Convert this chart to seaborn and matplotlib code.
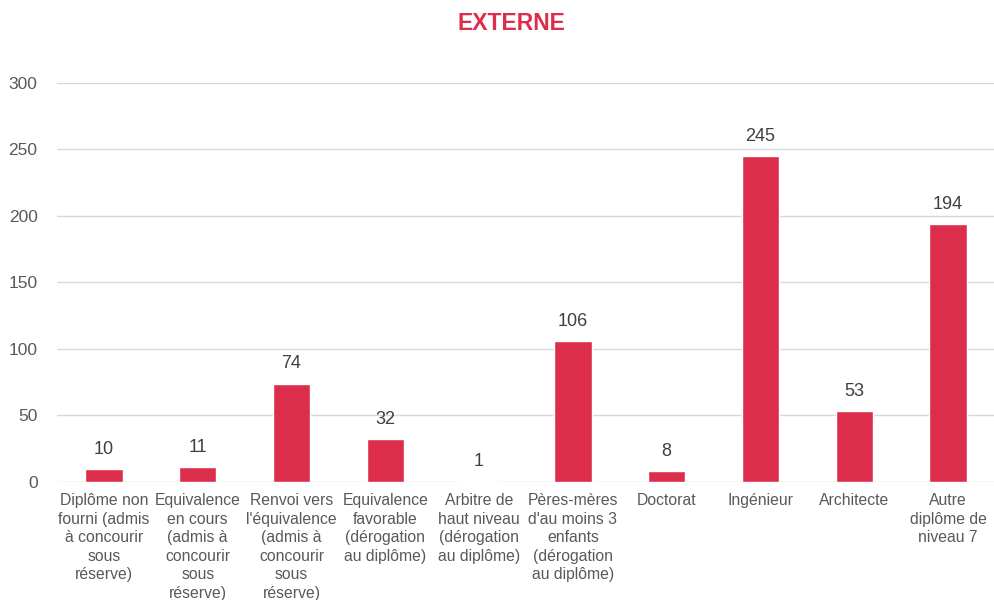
import matplotlib
matplotlib.use("Agg")
import matplotlib.pyplot as plt
import seaborn as sns
import pandas as pd

categories = [
    "Diplôme non\nfourni (admis\nà concourir\nsous\nréserve)",
    "Equivalence\nen cours\n(admis à\nconcourir\nsous\nréserve)",
    "Renvoi vers\nl'équivalence\n(admis à\nconcourir\nsous\nréserve)",
    "Equivalence\nfavorable\n(dérogation\nau diplôme)",
    "Arbitre de\nhaut niveau\n(dérogation\nau diplôme)",
    "Pères-mères\nd'au moins 3\nenfants\n(dérogation\nau diplôme)",
    "Doctorat",
    "Ingénieur",
    "Architecte",
    "Autre\ndiplôme de\nniveau 7",
]
values = [10, 11, 74, 32, 1, 106, 8, 245, 53, 194]
yticks = [0, 50, 100, 150, 200, 250, 300]
title = "EXTERNE"

sns.set_theme(style="white")
plt.rcParams["font.family"] = ["Liberation Sans", "DejaVu Sans"]

RED = "#DC2D4B"
GRAY = "#595959"

df = pd.DataFrame({"cat": categories, "val": values})
fig = plt.figure(figsize=(9.95, 6.0), dpi=100)
ax = fig.add_axes([0.0573, 0.1967, 0.9427, 0.665])
sns.barplot(data=df, x="cat", y="val", color=RED, width=0.4, ax=ax, saturation=1)

ax.set_ylim(0, 300)
ax.set_yticks(yticks)
ax.set_xlim(-0.5, len(categories) - 0.5)
ax.yaxis.grid(True, color="#D9D9D9", linewidth=1.0)
ax.set_axisbelow(True)
for s in ax.spines.values():
    s.set_visible(False)
ax.set_xlabel("")
ax.set_ylabel("")
ax.tick_params(axis="y", labelsize=12.5, colors=GRAY, length=0, pad=14)
ax.tick_params(axis="x", labelsize=11.3, colors=GRAY, length=0, pad=8)
for lab in ax.get_xticklabels():
    lab.set_linespacing(1.3)
    lab.set_verticalalignment("top")

for c in ax.containers:
    ax.bar_label(c, labels=[str(v) for v in values], padding=8, fontsize=13, color="#404040")

fig.text(0.514, 0.961, title, ha="center", va="center", fontsize=16.5, fontweight="bold", color=RED)

fig.savefig("out.png", dpi=100)
